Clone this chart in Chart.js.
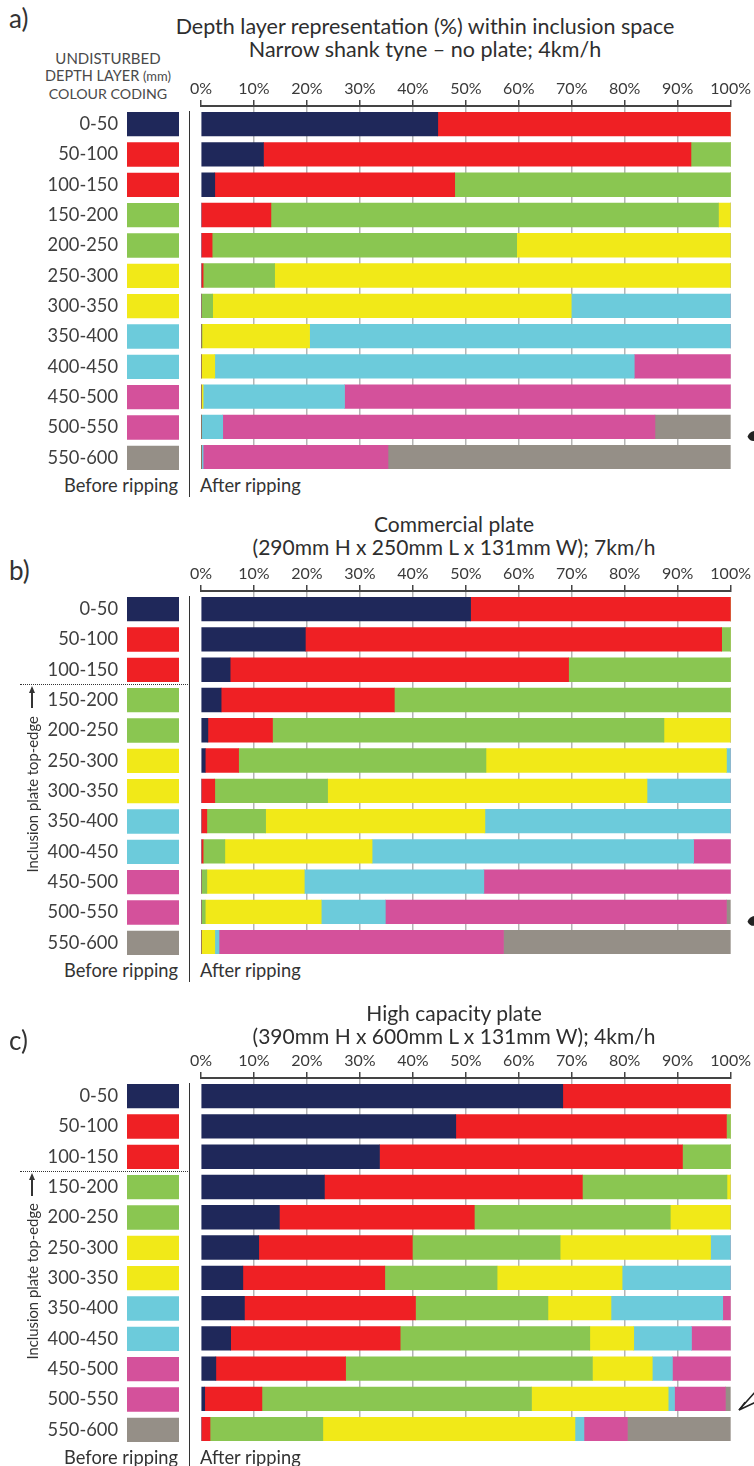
<!DOCTYPE html>
<html><head><meta charset="utf-8">
<script src="https://cdn.jsdelivr.net/npm/chart.js@4.4.0/dist/chart.umd.min.js"></script>
<style>
html,body{margin:0;padding:0;background:#fff;overflow:hidden}
body{width:754px;height:1466px;position:relative;font-family:Lato,'Open Sans',sans-serif;color:#333}
.t{position:absolute;white-space:nowrap;line-height:1}
canvas{position:absolute}
.ln{position:absolute;background:#333}
svg.mark{position:absolute;left:0;top:0;overflow:visible}
</style></head><body>
<script>
// ---------- data ----------
const DEPTHS = ['0-50','50-100','100-150','150-200','200-250','250-300','300-350','350-400','400-450','450-500','500-550','550-600'];
const LAYER_NAMES = ['0-50','50-150','150-250','250-350','350-450','450-550','550-600'];
const LAYER_COLORS = ['#1f285a','#ef2024','#8ac651','#f1e918','#6ccbdb','#d4519b','#958f87'];
const SWATCH_LAYER = [0,1,1,2,2,3,3,4,4,5,5,6];
const SWATCH_VALUES = [1,1,1,1,1,1,1,1,1,1,1,1];
const TICK_LABELS = ['0%','10%','20%','30%','40%','50%','60%','70%','80%','90%','100%'];

// panel a) narrow shank tyne, no plate
const A_NAVY    = [44.7,11.8, 2.6, 0,   0,   0,   0,   0,   0,   0,   0,   0];
const A_RED     = [55.3,80.7,45.3,13.2, 2.1, 0.4, 0,   0,   0,   0,   0,   0];
const A_GREEN   = [0,    7.5,52.1,84.5,57.5,13.5, 2.2, 0.2, 0,   0,   0,   0];
const A_YELLOW  = [0,    0,   0,   2.3,40.4,86.1,67.7,20.3, 2.6, 0.4, 0,   0];
const A_CYAN    = [0,    0,   0,   0,   0,   0,  30.1,79.5,79.2,26.7, 4.1, 0.4];
const A_MAGENTA = [0,    0,   0,   0,   0,   0,   0,   0,  18.2,72.9,81.6,34.9];
const A_GREY    = [0,    0,   0,   0,   0,   0,   0,   0,   0,   0,  14.3,64.7];

// panel b) commercial plate
const B_NAVY    = [50.9,19.7, 5.5, 3.8, 1.3, 0.8, 0,   0,   0,   0,   0,   0];
const B_RED     = [49.1,78.6,63.9,32.7,12.2, 6.3, 2.6, 1.1, 0.4, 0,   0,   0];
const B_GREEN   = [0,    1.7,30.6,63.5,73.9,46.7,21.3,11.1, 4.1, 1.1, 0.8, 0];
const B_YELLOW  = [0,    0,   0,   0,  12.6,45.4,60.3,41.4,27.8,18.4,21.9, 2.6];
const B_CYAN    = [0,    0,   0,   0,   0,   0.8,15.8,46.4,60.7,33.9,12.1, 0.8];
const B_MAGENTA = [0,    0,   0,   0,   0,   0,   0,   0,   7.0,46.6,64.4,53.7];
const B_GREY    = [0,    0,   0,   0,   0,   0,   0,   0,   0,   0,   0.8,42.9];

// panel c) high capacity plate
const C_NAVY    = [68.3,48.1,33.7,23.3,14.8,10.9, 7.9, 8.2, 5.6, 2.8, 0.7, 0];
const C_RED     = [31.7,51.1,57.2,48.7,36.8,29.0,26.8,32.3,32.0,24.5,10.8, 1.7];
const C_GREEN   = [0,    0.8, 9.1,27.3,37.0,27.9,21.2,25.0,35.8,46.6,50.9,21.3];
const C_YELLOW  = [0,    0,   0,   0.7,11.4,28.4,23.6,11.9, 8.3,11.3,25.8,47.6];
const C_CYAN    = [0,    0,   0,   0,   0,   3.8,20.5,21.1,10.9, 3.8, 1.2, 1.7];
const C_MAGENTA = [0,    0,   0,   0,   0,   0,   0,   1.5, 7.4,11.0, 9.6, 8.2];
const C_GREY    = [0,    0,   0,   0,   0,   0,   0,   0,   0,   0,   1.0,19.5];

// ---------- layout ----------
const PITCH = 30.3;
const PANELS = [
  {tag:'a)', tagY:18, row0:123.8, titleX:425, titleY:[27,50], titleSize:[21.5,21.5],
   title:['Depth layer representation (%) within inclusion space','Narrow shank tyne \u2013 no plate; 4km/h'],
   header:true, plate:false, mark:'dot',
   series:[A_NAVY,A_RED,A_GREEN,A_YELLOW,A_CYAN,A_MAGENTA,A_GREY]},
  {tag:'b)', tagY:570, row0:608.7, titleX:454, titleY:[523,546], titleSize:[21,21],
   title:['Commercial plate','(290mm H x 250mm L x 131mm W); 7km/h'],
   header:false, plate:true, mark:'dot',
   series:[B_NAVY,B_RED,B_GREEN,B_YELLOW,B_CYAN,B_MAGENTA,B_GREY]},
  {tag:'c)', tagY:1040, row0:1096, titleX:454, titleY:[1012,1035], titleSize:[21,21],
   title:['High capacity plate','(390mm H x 600mm L x 131mm W); 4km/h'],
   header:false, plate:true, mark:'pen',
   series:[C_NAVY,C_RED,C_GREEN,C_YELLOW,C_CYAN,C_MAGENTA,C_GREY]}
];

function txt(s, x, y, size, align, extra){
  const d = document.createElement('div');
  d.className = 't';
  d.textContent = s;
  d.style.fontSize = size + 'px';
  d.style.top = (y - size/2) + 'px';
  if (align === 'center'){ d.style.left = (x - 300) + 'px'; d.style.width = '600px'; d.style.textAlign = 'center'; }
  else if (align === 'right'){ d.style.left = (x - 300) + 'px'; d.style.width = '300px'; d.style.textAlign = 'right'; }
  else { d.style.left = x + 'px'; }
  if (extra) Object.assign(d.style, extra);
  document.body.appendChild(d);
  return d;
}
function line(x, y, w, h, extra){
  const d = document.createElement('div');
  d.className = 'ln';
  Object.assign(d.style, {left:x+'px', top:y+'px', width:w+'px', height:h+'px'});
  if (extra) Object.assign(d.style, extra);
  document.body.appendChild(d);
  return d;
}
function canvas(x, y, w, h){
  const c = document.createElement('canvas');
  c.width = w; c.height = h;
  Object.assign(c.style, {left:x+'px', top:y+'px', width:w+'px', height:h+'px'});
  document.body.appendChild(c);
  return c;
}
function svgMark(markup){
  const ns = 'http://www.w3.org/2000/svg';
  const s = document.createElementNS(ns, 'svg');
  s.setAttribute('class', 'mark');
  s.setAttribute('width', '754'); s.setAttribute('height', '1466');
  s.innerHTML = markup;
  document.body.appendChild(s);
}

const FONT = 'Lato';
Chart.defaults.font.family = FONT;

PANELS.forEach((p) => {
  const axisY = p.row0 - 18.1;
  // labels and titles
  txt(p.tag, 9, p.tagY, 26, 'left', {color:'#333'});
  txt(p.title[0], p.titleX, p.titleY[0], p.titleSize[0], 'center', {color:'#2e2e2e'});
  txt(p.title[1], p.titleX, p.titleY[1], p.titleSize[1], 'center', {color:'#2e2e2e'});
  if (p.header){
    txt('UNDISTURBED', 108, 58, 15, 'center', {color:'#4a4a4a'});
    const h = txt('DEPTH LAYER ', 108, 76, 14.5, 'center', {color:'#4a4a4a'});
    const s = document.createElement('span'); s.textContent = '(mm)'; s.style.fontSize = '13px'; h.appendChild(s);
    txt('COLOUR CODING', 108, 94, 14.2, 'center', {color:'#4a4a4a'});
  }
  txt('Before ripping', 178, p.row0 + 361.5, 18.3, 'right', {color:'#333'});
  txt('After ripping', 200, p.row0 + 361.5, 18.3, 'left', {color:'#333'});
  line(188.5, p.row0 - 13, 1.6, 386);

  if (p.plate){
    const dy = p.row0 + 2.5*PITCH;
    line(20, dy - 0.5, 170, 0, {background:'none', borderTop:'1.6px dotted #333'});
    line(31.4, dy + 6, 1.2, 18);
    const head = document.createElement('div');
    Object.assign(head.style, {position:'absolute', left:'29px', top:(dy+1.5)+'px', width:0, height:0,
      borderLeft:'3px solid transparent', borderRight:'3px solid transparent', borderBottom:'7px solid #333'});
    document.body.appendChild(head);
    txt('Inclusion plate top-edge', 32, dy + 110, 14.8, 'center', {transform:'rotate(-90deg)', color:'#333'});
  }

  // cropped pointer marks at the right edge
  if (p.mark === 'dot'){
    const my = p.row0 + 312;
    svgMark('<path d="M747.5 ' + (my+1) + ' Q749 ' + (my-4) + ' 755 ' + (my-5) + ' L755 ' + (my+5) + ' Q750 ' + (my+6) + ' 747.5 ' + (my+1) + ' Z" fill="#222"/>');
  } else {
    const y0 = p.row0 + 10*PITCH;
    svgMark('<path d="M756 ' + (y0-8) + ' L739 ' + (y0+11) + ' L756 ' + (y0+3) + '" fill="none" stroke="#222" stroke-width="1.6"/>' +
            '<path d="M739 ' + (y0+11) + ' L745 ' + (y0+3) + '" fill="none" stroke="#222" stroke-width="1.2"/>');
  }

  // swatch column (before ripping)
  const SP = 30;
  const swTop = p.row0 - PITCH/2 - SP;
  const sw = canvas(0, swTop, 180, Math.round(12*PITCH + 2*SP));
  new Chart(sw, {
    type:'bar',
    data:{labels:DEPTHS, datasets:[{data:SWATCH_VALUES, backgroundColor:SWATCH_LAYER.map(k=>LAYER_COLORS[k]), barThickness:23.7, borderWidth:0}]},
    options:{indexAxis:'y', responsive:false, animation:false, devicePixelRatio:1,
      layout:{padding:{left:0,right:1,top:SP,bottom:SP}},
      plugins:{legend:{display:false}, tooltip:{enabled:false}},
      scales:{
        x:{display:false, min:0, max:1},
        y:{afterFit(s){ s.width = 127; }, grid:{display:false, drawTicks:false}, border:{display:false},
           ticks:{font:{family:FONT, size:18.3}, color:'#3f3f3f', padding:9}}
      }}
  });

  // main stacked bars (after ripping)
  const H = 363;
  const mTop = axisY - 30;
  const mc = canvas(181, mTop, 572, 30 + H);
  new Chart(mc, {
    type:'bar',
    data:{datasets: LAYER_NAMES.map((n,k)=>({
      label:n,
      data:p.series[k].map((v,i)=>({x:v, y:i})),
      backgroundColor:LAYER_COLORS[k], barThickness:23.7, borderWidth:0
    }))},
    options:{indexAxis:'y', responsive:false, animation:false, devicePixelRatio:1,
      layout:{padding:{left:20,right:20,top:0,bottom:0}},
      plugins:{legend:{display:false}, tooltip:{enabled:false}},
      scales:{
        x:{type:'linear', position:'top', min:0, max:100, stacked:true,
           afterFit(s){ s.height = 30; },
           ticks:{stepSize:10, autoSkip:false, maxRotation:0, callback:(v,i)=>TICK_LABELS[i],
                  font:{family:FONT, size:16}, color:'#3a3a3a', padding:2},
           grid:{color:(ctx)=> (ctx.tick && (ctx.tick.value===0 || ctx.tick.value===100)) ? 'rgba(0,0,0,0)' : '#b5b5b5',
                 lineWidth:1.5, tickLength:6, tickColor:'#444', tickWidth:1.5},
           border:{color:'#444', width:2}},
        y:{type:'linear', display:false, reverse:true, min:-0.6, max:11.39, stacked:true, offset:false, grid:{offset:false}}
      }}
  });
});
</script>
</body></html>
